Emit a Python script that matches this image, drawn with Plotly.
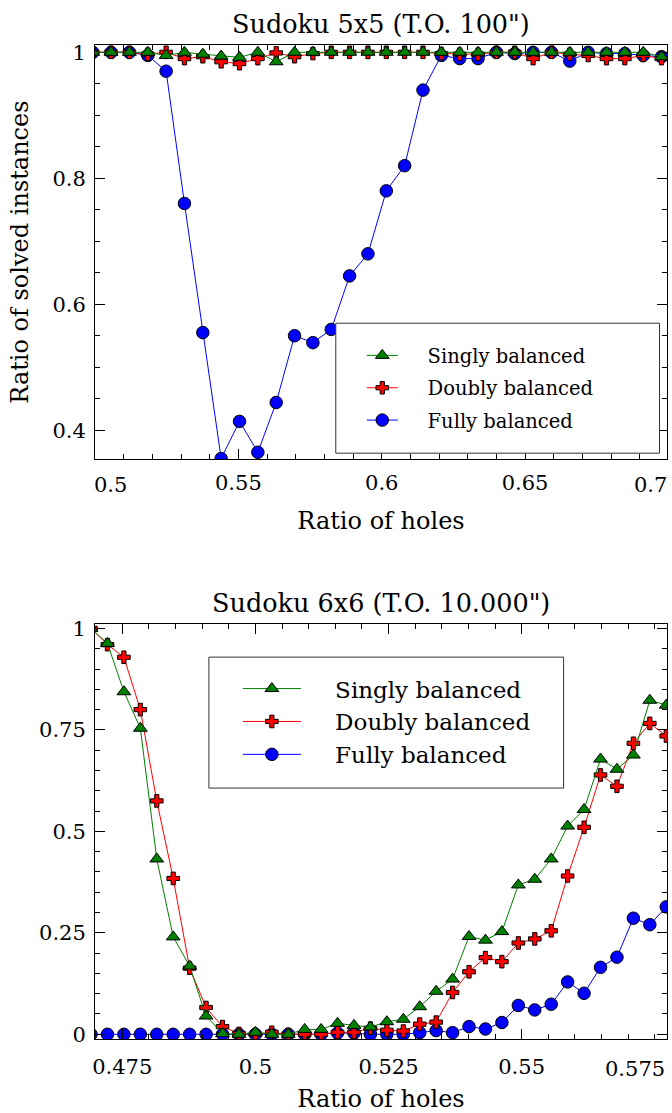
import plotly.graph_objects as go

# ---------------- data ----------------
# Sudoku 5x5 (ratio of holes = holes / 625)
x5 = [0.4992, 0.5056, 0.5120, 0.5184, 0.5248, 0.5312, 0.5376, 0.5440,
      0.5504, 0.5568, 0.5632, 0.5696, 0.5760, 0.5824, 0.5888, 0.5952,
      0.6016, 0.6080, 0.6144, 0.6208, 0.6272, 0.6336, 0.6400, 0.6464,
      0.6528, 0.6592, 0.6656, 0.6720, 0.6784, 0.6848, 0.6912, 0.6976]
singly5 = [1.0, 1.0, 1.0, 1.0, 0.995, 1.0, 0.997, 0.994, 0.992, 1.0, 0.985, 1.0,
           1.0, 1.0, 1.0, 1.0, 1.0, 1.0, 1.0, 1.0, 1.0, 1.0, 1.0, 1.0,
           1.0, 1.0, 1.0, 1.0, 1.0, 1.0, 1.0, 0.993]
doubly5 = [1.0, 1.0, 1.0, 0.997, 1.0, 0.99, 0.993, 0.985, 0.982, 0.99, 0.999, 0.993,
           0.998, 1.0, 1.0, 1.0, 1.0, 1.0, 1.0, 0.998, 0.997, 0.997, 1.0, 1.0,
           0.99, 1.0, 0.997, 0.995, 0.99, 0.99, 0.995, 0.99]
fully5 = [1.0, 1.0, 1.0, 0.995, 0.97, 0.76, 0.555, 0.355, 0.414, 0.365, 0.444, 0.55,
          0.539, 0.56, 0.645, 0.68, 0.78, 0.82, 0.94, 0.995, 0.99, 0.99, 1.0, 0.998,
          1.0, 1.0, 0.986, 1.0, 0.998, 0.998, 0.995, 0.993]

# Sudoku 6x6 (ratio of holes = holes / 1296)
x6 = [0.469136, 0.472222, 0.475309, 0.478395, 0.481481, 0.484568, 0.487654, 0.490741,
      0.493827, 0.496914, 0.500000, 0.503086, 0.506173, 0.509259, 0.512346, 0.515432,
      0.518519, 0.521605, 0.524691, 0.527778, 0.530864, 0.533951, 0.537037, 0.540123,
      0.543210, 0.546296, 0.549383, 0.552469, 0.555556, 0.558642, 0.561728, 0.564815,
      0.567901, 0.570988, 0.574074, 0.577160]
singly6 = [1.0, 0.963, 0.844, 0.754, 0.432, 0.24, 0.168, 0.045, 0.002, 0.0, 0.005, 0.0,
           0.0, 0.012, 0.012, 0.027, 0.022, 0.018, 0.031, 0.037, 0.068, 0.106, 0.136, 0.241,
           0.232, 0.253, 0.368, 0.382, 0.432, 0.513, 0.554, 0.678, 0.653, 0.688, 0.823, 0.811]
doubly6 = [1.0, 0.96, 0.929, 0.80, 0.575, 0.384, 0.163, 0.066, 0.019, 0.002, 0.0, 0.005,
           0.0, 0.0, 0.0, 0.005, 0.005, 0.015, 0.01, 0.008, 0.025, 0.03, 0.103, 0.154,
           0.189, 0.179, 0.225, 0.235, 0.255, 0.39, 0.51, 0.639, 0.611, 0.717, 0.766, 0.735]
fully6 = [0.0, 0.0, 0.0, 0.0, 0.0, 0.0, 0.0, 0.0, 0.0, 0.0, 0.0, 0.0,
          0.0, 0.0, 0.0, 0.003, 0.003, 0.0, 0.0, 0.0, 0.004, 0.009, 0.004, 0.019,
          0.013, 0.029, 0.071, 0.06, 0.074, 0.129, 0.101, 0.165, 0.19, 0.286, 0.27, 0.314]

series_names = ["Singly balanced", "Doubly balanced", "Fully balanced"]
titles = ["Sudoku 5x5 (T.O. 100\")", "Sudoku 6x6 (T.O. 10.000\")"]
xtick5 = [0.5, 0.55, 0.6, 0.65, 0.7]
xtick6 = [0.475, 0.5, 0.525, 0.55, 0.575]

# ---------------- styling ----------------
FONT = "DejaVu Serif"
GREEN, RED, BLUE = "#008000", "#ff0000", "#0000ff"
styles = {
    "Singly balanced": dict(color=GREEN, symbol="triangle-up", size=12, z=3),
    "Doubly balanced": dict(color=RED, symbol="cross", size=10.5, z=2),
    "Fully balanced": dict(color=BLUE, symbol="circle", size=12.5, z=1),
}
PAD = "\u00a0" * 4  # gap between legend sample and legend text

fig = go.Figure()

def add_series(x, ys, xa, ya, legend):
    for name, y in zip(series_names, ys):
        st = styles[name]
        fig.add_trace(go.Scatter(
            x=x, y=y, name=PAD + name, mode="lines+markers",
            xaxis=xa, yaxis=ya, legend=legend, legendgroup=legend + name,
            zorder=st["z"],
            line=dict(color=st["color"], width=1),
            marker=dict(symbol=st["symbol"], size=st["size"], color=st["color"],
                        line=dict(color="black", width=1)),
        ))

add_series(x5, [singly5, doubly5, fully5], "x", "y", "legend")
add_series(x6, [singly6, doubly6, fully6], "x2", "y2", "legend2")

W, H = 672, 1113
ml, mr, mt, mb = 95, 4.5, 44.7, 74
ph = H - mt - mb
pw = W - ml - mr
top_dom = [(1039 - 459) / ph, 1.0]
bot_dom = [0.0, (1039 - 624) / ph]

def px_x(p):
    return (p - ml) / pw

def px_y(p):
    return (1039 - p) / ph

axis_common = dict(
    showline=True, linecolor="black", linewidth=1, mirror="allticks",
    ticks="inside", ticklen=10, tickwidth=1, tickcolor="black",
    showgrid=False, zeroline=False, automargin=False,
    tickfont=dict(family=FONT, size=21, color="black"),
)
TFONT = dict(family=FONT, size=24, color="black")

fig.update_layout(
    width=W, height=H, margin=dict(l=ml, r=mr, t=mt, b=mb),
    paper_bgcolor="white", plot_bgcolor="white", showlegend=True,
    font=dict(family=FONT, color="black"),
    xaxis=dict(axis_common, domain=[0, 1], anchor="y", range=[0.5, 0.6995],
               tickvals=xtick5[1:-1], ticktext=[str(v) for v in xtick5[1:-1]],
               minor=dict(ticks="inside", ticklen=5, dtick=0.01, tick0=0.5, tickcolor="black"),
               ticklabelstandoff=5,
               title=dict(text="Ratio of holes", font=TFONT, standoff=17)),
    yaxis=dict(axis_common, domain=top_dom, anchor="x", range=[0.354, 1.0116],
               tickvals=[0.4, 0.6, 0.8, 1.0], ticktext=["0.4", "0.6", "0.8", "1"],
               minor=dict(ticks="inside", ticklen=5, dtick=0.05, tick0=0.4, tickcolor="black"),
               ticklabelstandoff=4,
               title=dict(text="Ratio of solved instances", font=TFONT, standoff=16)),
    xaxis2=dict(axis_common, domain=[0, 1], anchor="y2", range=[0.46988, 0.5773],
                tickvals=xtick6[:-1], ticktext=[str(v) for v in xtick6[:-1]],
                minor=dict(ticks="inside", ticklen=5, dtick=0.005, tick0=0.475, tickcolor="black"),
                ticklabelstandoff=9,
                title=dict(text="Ratio of holes", font=TFONT, standoff=14)),
    yaxis2=dict(axis_common, domain=bot_dom, anchor="x2", range=[-0.0116, 1.0106],
                tickvals=[0, 0.25, 0.5, 0.75, 1.0], ticktext=["0", "0.25", "0.5", "0.75", "1"],
                minor=dict(ticks="inside", ticklen=5, dtick=0.05, tick0=0, tickcolor="black"),
                ticklabelstandoff=4),
    legend=dict(x=px_x(362), y=px_y(336),
                xanchor="left", yanchor="top", bgcolor="rgba(0,0,0,0)", borderwidth=0,
                font=dict(family=FONT, size=19.5, color="black"), itemwidth=31,
                tracegroupgap=4, traceorder="grouped"),
    legend2=dict(x=px_x(238), y=px_y(667),
                 xanchor="left", yanchor="top", bgcolor="rgba(0,0,0,0)", borderwidth=0,
                 font=dict(family=FONT, size=23, color="black"), itemwidth=58,
                 tracegroupgap=0, traceorder="grouped"),
)

# legend frames
fig.add_shape(type="rect", xref="paper", yref="paper",
              x0=px_x(336), x1=px_x(660), y0=px_y(453), y1=px_y(323),
              line=dict(color="#333333", width=1), fillcolor="white", layer="above")
fig.add_shape(type="rect", xref="paper", yref="paper",
              x0=px_x(209), x1=px_x(564), y0=px_y(788), y1=px_y(657),
              line=dict(color="#333333", width=1), fillcolor="white", layer="above")

# edge tick labels kept inside the figure (as in the reference)
LFONT = dict(family=FONT, size=21, color="black")
fig.add_annotation(x=xtick5[0], y=top_dom[0], xref="x", yref="paper", text=str(xtick5[0]),
                   xanchor="left", yanchor="top", yshift=-12, xshift=-3, showarrow=False,
                   font=LFONT)
fig.add_annotation(x=0.6995, y=top_dom[0], xref="x", yref="paper", text=str(xtick5[-1]),
                   xanchor="right", yanchor="top", yshift=-12, xshift=2, showarrow=False,
                   font=LFONT)
fig.add_annotation(x=0.5773, y=0, xref="x2", yref="paper", text=str(xtick6[-1]),
                   xanchor="right", yanchor="top", yshift=-16, showarrow=False, font=LFONT)

# subplot titles
fig.add_annotation(x=0.5, y=1, xref="paper", yref="paper", text=titles[0],
                   xanchor="center", yanchor="bottom", yshift=4, showarrow=False,
                   font=dict(family=FONT, size=25.5, color="black"))
fig.add_annotation(x=0.5, y=bot_dom[1], xref="paper", yref="paper", text=titles[1],
                   xanchor="center", yanchor="bottom", yshift=4, showarrow=False,
                   font=dict(family=FONT, size=25.5, color="black"))

fig.write_html("out.html", config={"displayModeBar": False},
               post_script="document.body.style.margin='0';")
